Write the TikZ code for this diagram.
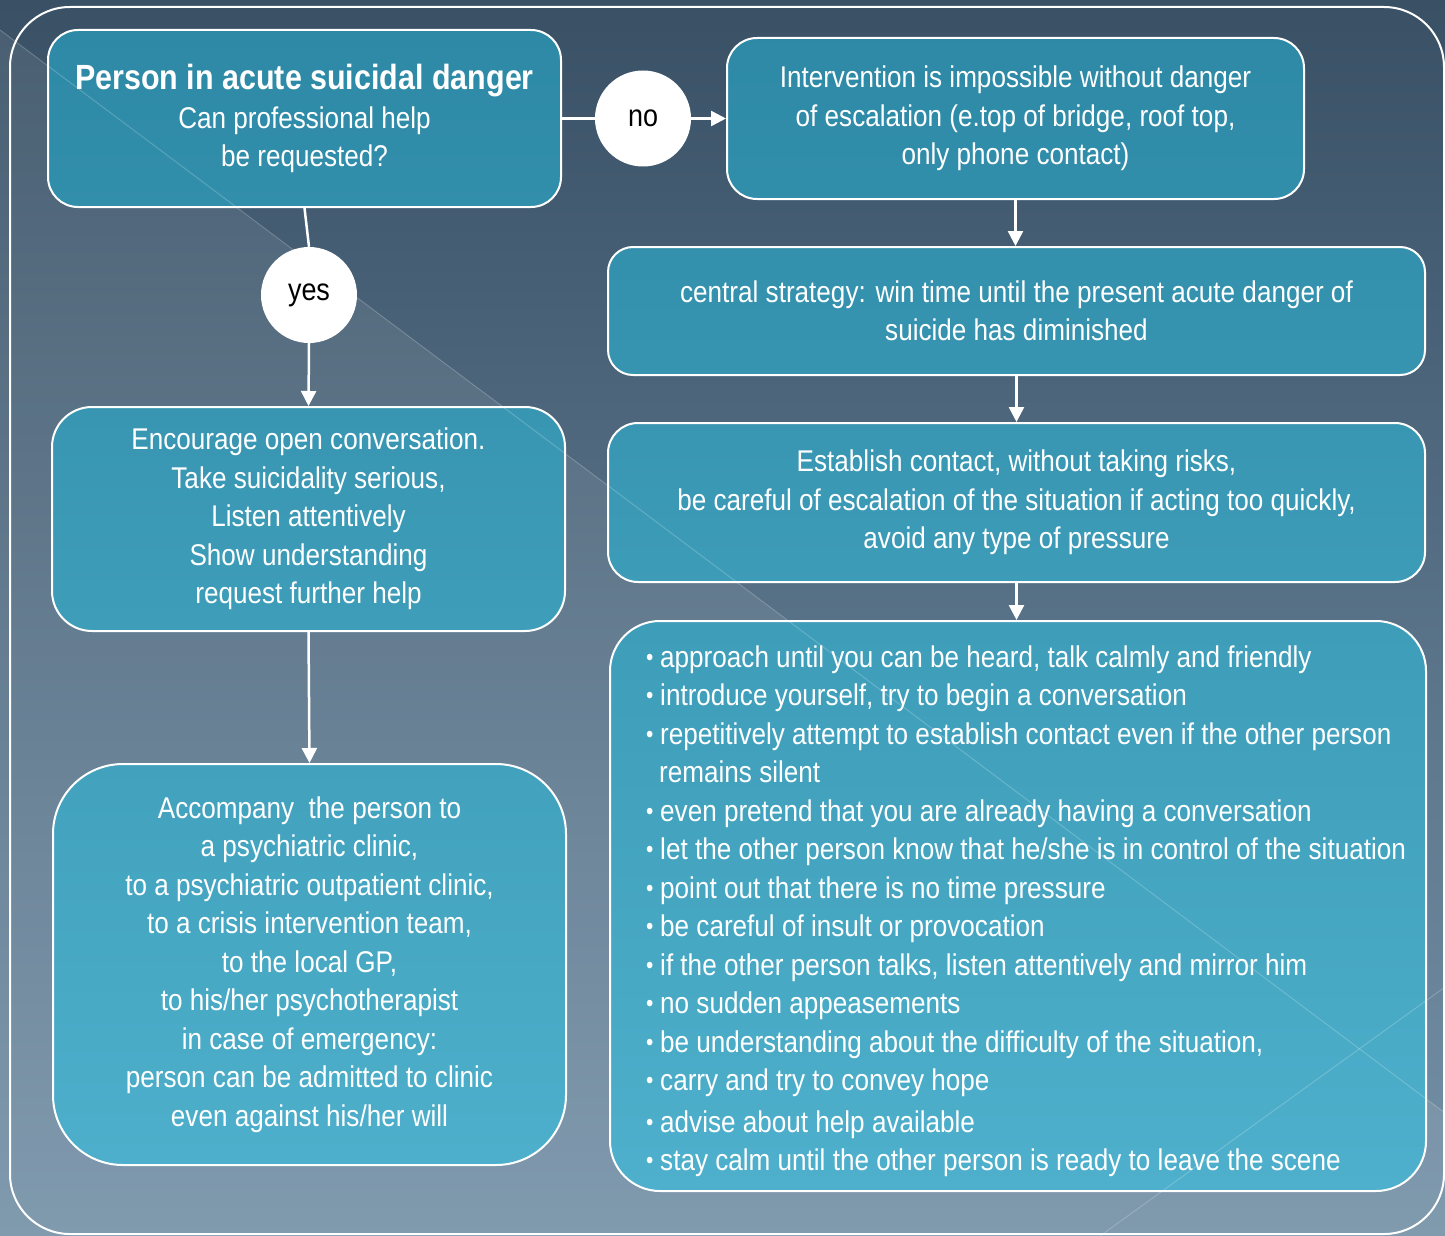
\documentclass[tikz,border=0pt]{standalone}
\usepackage{fontspec}
\setmainfont{Liberation Sans}[FakeStretch=0.87]
\usetikzlibrary{arrows.meta}

\newcommand{\listdot}{\makebox[14pt][l]{\fontsize{24}{24}\selectfont\raisebox{2pt}{\textbullet}}}

\begin{document}
\begin{tikzpicture}[x=1pt, y=-1pt,
  box/.style={draw=white, line width=2pt, text=white, align=center,
    font=\fontsize{30}{38.5}\selectfont, inner sep=0pt},
  decision/.style={circle, fill=white, minimum size=96pt, inner sep=0pt,
    font=\fontsize{31}{34}\selectfont},
  link/.style={draw=white, line width=2.5pt},
  arrowlink/.style={link, -{Triangle[length=15pt, width=15pt]}}]
  % Define colors
  \definecolor{bgtop}{RGB}{57,80,101}
  \definecolor{bgbot}{RGB}{118,146,168}
  \definecolor{tealA}{RGB}{45,137,165}
  \definecolor{tealB}{RGB}{78,176,204}

  % Background and frame
  \useasboundingbox (0,0) rectangle (1445,1236);
  \fill[top color=bgtop, bottom color=bgbot] (0,0) rectangle (1445,1236);
  \fill[white, opacity=0.08] (0,30) -- (1445,1113) -- (1445,1236) -- (0,1236) -- cycle;
  \draw[white, line width=2pt, rounded corners=60pt] (10,7) rectangle (1444,1234);

  % Left column
  \node[box, minimum width=513pt, minimum height=177pt, rounded corners=30pt,
    top color=tealB!0!tealA, bottom color=tealB!15!tealA] (danger) at (304.5,118.5)
    {{\fontsize{35}{43}\selectfont\bfseries Person in acute suicidal danger}\\
     Can professional help\\be requested?};
  \node[decision] (yes) at (309,295) {yes};
  \node[box, minimum width=513pt, minimum height=224pt, rounded corners=40pt,
    top color=tealB!33!tealA, bottom color=tealB!52!tealA] (talk) at (308.5,519)
    {Encourage open conversation.\\Take suicidality serious,\\Listen attentively\\
     Show understanding\\request further help};
  \node[box, minimum width=513pt, minimum height=401pt, rounded corners=70pt,
    top color=tealB!64!tealA, bottom color=tealB!98!tealA] (clinic) at (309.5,964.5)
    {Accompany\ \ the person to\\a psychiatric clinic,\\to a psychiatric outpatient clinic,\\
     to a crisis intervention team,\\to the local GP,\\to his/her psychotherapist\\
     in case of emergency:\\person can be admitted to clinic\\even against his/her will};

  % Right column
  \node[decision] (no) at (643,118.5) {no};
  \node[box, minimum width=577pt, minimum height=161pt, rounded corners=30pt,
    top color=tealB!1!tealA, bottom color=tealB!14!tealA] (escalate) at (1015.5,118.5)
    {Intervention is impossible without danger\\of escalation (e.top of bridge, roof top,\\
     only phone contact)};
  \node[box, minimum width=817pt, minimum height=128pt, rounded corners=25pt,
    top color=tealB!19!tealA, bottom color=tealB!30!tealA] (strategy) at (1016.5,311)
    {central strategy: win time until the present acute danger of\\suicide has diminished};
  \node[box, minimum width=817pt, minimum height=159pt, rounded corners=30pt,
    top color=tealB!34!tealA, bottom color=tealB!48!tealA] (contact) at (1016.5,502.5)
    {Establish contact, without taking risks,\\
     be careful of escalation of the situation if acting too quickly,\\
     avoid any type of pressure};
  \node[box, minimum width=816pt, minimum height=570pt, rounded corners=50pt,
    top color=tealB!51!tealA, bottom color=tealB!100!tealA] (tips) at (1018,906) {};
  \node[text=white, anchor=west, align=left, inner sep=0pt,
    font=\fontsize{30}{38.5}\selectfont] (tipstext) at (646,911)
    {\listdot approach until you can be heard, talk calmly and friendly\\
     \listdot introduce yourself, try to begin a conversation\\
     \listdot repetitively attempt to establish contact even if the other person\\
     \hspace*{13pt}remains silent\\
     \listdot even pretend that you are already having a conversation\\
     \listdot let the other person know that he/she is in control of the situation\\
     \listdot point out that there is no time pressure\\
     \listdot be careful of insult or provocation\\
     \listdot if the other person talks, listen attentively and mirror him\\
     \listdot no sudden appeasements\\
     \listdot be understanding about the difficulty of the situation,\\
     \listdot carry and try to convey hope\\[3pt]
     \listdot advise about help available\\
     \listdot stay calm until the other person is ready to leave the scene};

  % Connectors
  \draw[link] (danger.south) -- (yes.north);
  \draw[arrowlink] (yes.south) -- (talk.north);
  \draw[arrowlink] (talk.south) -- (clinic.north);
  \draw[link] (danger.east) -- (no.west);
  \draw[arrowlink] (no.east) -- (escalate.west);
  \draw[arrowlink] (escalate.south) -- (escalate.south |- strategy.north);
  \draw[arrowlink] (strategy.south) -- (contact.north);
  \draw[arrowlink] (contact.south) -- (contact.south |- tips.north);

  % Decorative lines
  \draw[white, opacity=0.2, line width=1pt] (0,30) -- (1445,1113);
  \draw[white, opacity=0.2, line width=1pt] (1100,1236) -- (1445,987);
\end{tikzpicture}
\end{document}
